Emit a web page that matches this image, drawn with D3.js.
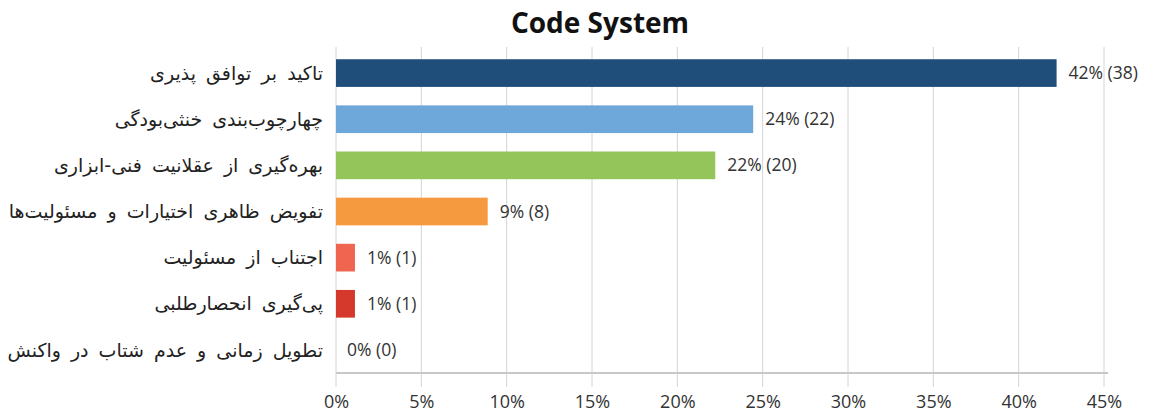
<!DOCTYPE html>
<html><head><meta charset="utf-8">
<script src="https://cdn.jsdelivr.net/npm/d3@7"></script>
<style>
body{margin:0;background:#fff;}
svg{display:block;}
</style></head>
<body><svg id="c" width="1149" height="412"></svg>
<script>
const categories = [
  "تاکید بر توافق پذیری",
  "چهارچوب‌بندی خنثی‌بودگی",
  "بهره‌گیری از عقلانیت فنی-ابزاری",
  "تفویض ظاهری اختیارات و مسئولیت‌ها",
  "اجتناب از مسئولیت",
  "پی‌گیری انحصارطلبی",
  "تطویل زمانی و عدم شتاب در واکنش"
];
const counts = [38, 22, 20, 8, 1, 1, 0];
const total = 90;
const colors = ["#1f4e7b", "#6ea7d9", "#93c55a", "#f59a3f", "#ef6550", "#d5392b", "#999999"];
const tickValues = [0, 5, 10, 15, 20, 25, 30, 35, 40, 45];
const title = "Code System";

const svg = d3.select("#c");
const m = {left: 336, right: 1104, top: 50, bottom: 373};
const x = d3.scaleLinear().domain([0, 45]).range([m.left, m.right]);
const y = d3.scaleBand().domain(categories).range([m.top, m.bottom]).paddingInner(0.4).paddingOuter(0.2);

// grid lines
svg.append("g").selectAll("line").data(tickValues).join("line")
  .attr("x1", d => x(d)).attr("x2", d => x(d))
  .attr("y1", 47).attr("y2", 387)
  .attr("stroke", "#d4d4d4").attr("stroke-width", 1);

// bottom axis line
svg.append("line").attr("x1", x(0)).attr("x2", x(45) + 4).attr("y1", m.bottom).attr("y2", m.bottom)
  .attr("stroke", "#c8c8c8").attr("stroke-width", 2);

// tick labels
const axis = d3.axisBottom(x).tickValues(tickValues).tickFormat(d => d + "%").tickSize(0).tickPadding(0);
const ga = svg.append("g").attr("transform", `translate(0,${m.bottom + 22})`).call(axis);
ga.select(".domain").remove();
ga.selectAll("text").attr("font-family", "'Open Sans', sans-serif").attr("font-size", 18)
  .attr("fill", "#333").attr("dy", "0.71em");

// bars
svg.append("g").selectAll("rect").data(counts).join("rect")
  .attr("x", x(0))
  .attr("y", (d, i) => y(categories[i]))
  .attr("width", d => x(d / total * 100) - x(0))
  .attr("height", y.bandwidth())
  .attr("fill", (d, i) => colors[i]);

// value labels
svg.append("g").selectAll("text").data(counts).join("text")
  .attr("x", d => x(d / total * 100) + (d > 0 ? 12 : 11))
  .attr("y", (d, i) => y(categories[i]) + y.bandwidth() / 2)
  .attr("dy", "0.35em")
  .attr("font-family", "'Open Sans', sans-serif").attr("font-size", 17.5)
  .attr("fill", "#333")
  .text(d => Math.round(d / total * 100) + "% (" + d + ")");

// category labels
svg.append("g").selectAll("text").data(categories).join("text")
  .attr("x", 323)
  .attr("y", d => y(d) + y.bandwidth() / 2)
  .attr("dy", "0.35em")
  .attr("text-anchor", "end")
  .attr("font-family", "'DejaVu Sans', sans-serif").attr("font-size", 19)
  .attr("word-spacing", 4)
  .attr("fill", "#222")
  .text(d => d);

// title
svg.append("text").attr("x", 600).attr("y", 33).attr("text-anchor", "middle")
  .attr("font-family", "'Open Sans', sans-serif").attr("font-weight", "bold").attr("font-size", 28)
  .attr("fill", "#111").text(title);
</script></body></html>
